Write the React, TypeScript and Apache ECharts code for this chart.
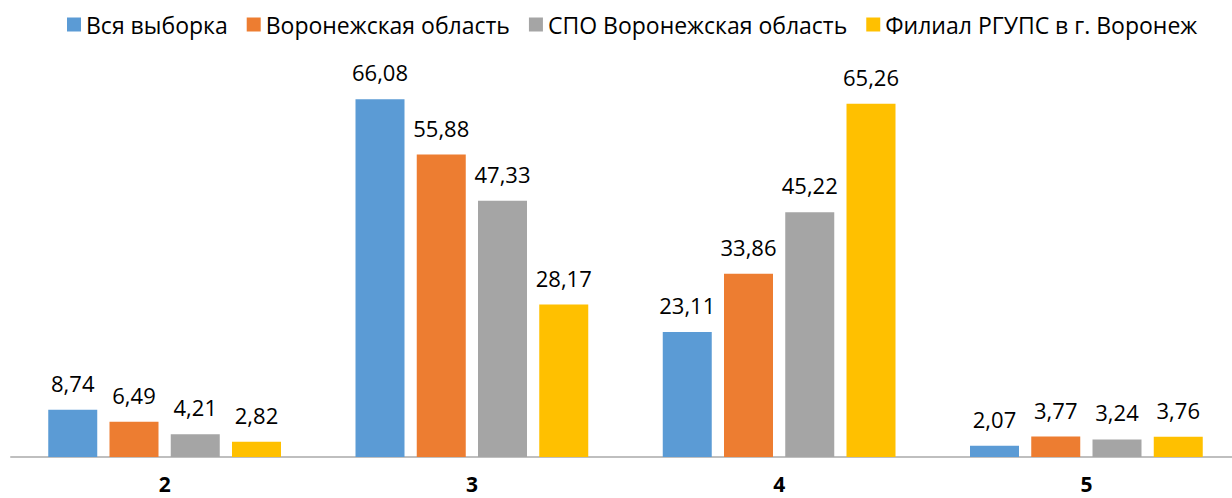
import React, { useEffect, useRef } from "react";
import * as echarts from "echarts";

const categories = ["2", "3", "4", "5"];
const seriesNames = [
  "Вся выборка",
  "Воронежская область",
  "СПО Воронежская область",
  "Филиал РГУПС в г. Воронеж",
];
const allSample = [8.74, 66.08, 23.11, 2.07];
const voronezhRegion = [6.49, 55.88, 33.86, 3.77];
const spoVoronezh = [4.21, 47.33, 45.22, 3.24];
const filialRgups = [2.82, 28.17, 65.26, 3.76];
const colors = ["#5B9BD5", "#ED7D31", "#A5A5A5", "#FFC000"];

const FONT = "'Open Sans', sans-serif";

export default function App() {
  const ref = useRef<HTMLDivElement>(null);
  useEffect(() => {
    if (!ref.current) return;
    const chart = echarts.init(ref.current, undefined, { renderer: "svg" });
    const data = [allSample, voronezhRegion, spoVoronezh, filialRgups];
    chart.setOption({
      animation: false,
      backgroundColor: "#ffffff",
      legend: {
        top: 8,
        left: 62,
        itemWidth: 14,
        itemHeight: 14,
        itemGap: 19,
        icon: "rect",
        textStyle: { fontFamily: FONT, fontSize: 23, color: "#000" },
        data: seriesNames,
      },
      grid: { left: 11, width: 1229, top: 51, height: 406 },
      xAxis: {
        type: "category",
        data: categories,
        axisLine: { lineStyle: { color: "#bfbfbf", width: 2 } },
        axisTick: { show: false },
        axisLabel: {
          margin: 16,
          fontFamily: FONT,
          fontSize: 21,
          lineHeight: 22,
          fontWeight: "bold",
          color: "#000",
        },
      },
      yAxis: {
        type: "value",
        min: 0,
        max: 75,
        show: false,
        splitLine: { show: false },
      },
      series: seriesNames.map((name, i) => ({
        name,
        type: "bar",
        data: data[i],
        barWidth: 49,
        barGap: "25%",
        itemStyle: { color: colors[i] },
        label: {
          show: true,
          position: "top",
          distance: 16,
          fontFamily: FONT,
          fontSize: 22,
          color: "#000",
          formatter: (p: any) => p.value.toFixed(2).replace(".", ","),
        },
      })),
    });
    return () => chart.dispose();
  }, []);
  return (
    <div
      style={{
        position: "fixed",
        left: 0,
        top: 0,
        width: 1232,
        height: 498,
        overflow: "hidden",
        background: "#fff",
      }}
    >
      <div ref={ref} style={{ width: 1244, height: 498 }} />
    </div>
  );
}
